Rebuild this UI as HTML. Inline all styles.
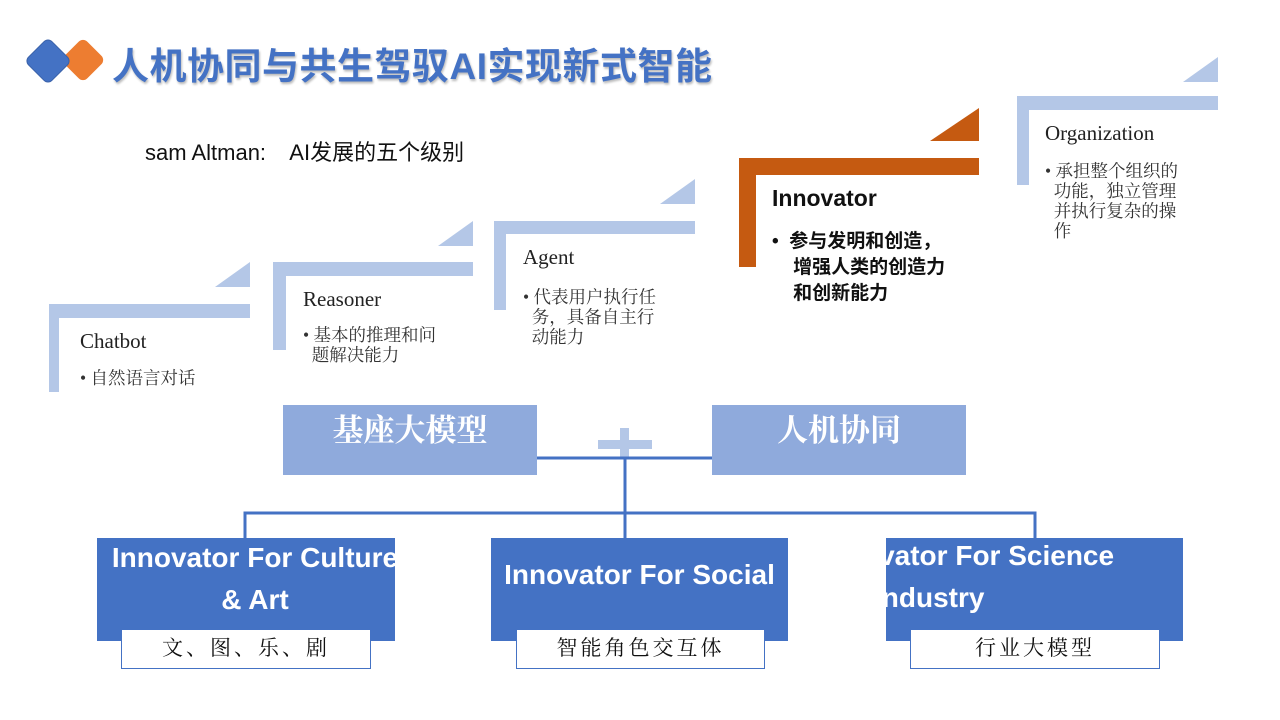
<!DOCTYPE html>
<html><head><meta charset="utf-8"><style>
body{margin:0;width:1280px;height:720px;background:#fff;position:relative;overflow:hidden;font-family:"Liberation Sans","Noto Sans CJK SC",sans-serif}
.a{position:absolute}
.lb{background:#B4C7E7}
.or{background:#C55A11}
.serif{font-family:"Liberation Serif","Noto Serif CJK SC",serif}
.h{font-size:21px;color:#222}
.t{font-size:17.5px;color:#333;line-height:20px;white-space:nowrap}
.box{background:#4472C4;color:#fff;font-weight:bold;font-size:28px;text-align:center;overflow:hidden;line-height:42px}
.wl{background:#fff;border:1.5px solid #4472C4;box-sizing:border-box;text-align:center;font-size:21px;color:#111;line-height:37px;font-family:"Liberation Serif","Noto Serif CJK SC",serif;letter-spacing:3px}
.tb{background:#8FAADC;color:#fff;font-size:31px;font-weight:bold;text-align:center;font-family:"Liberation Serif","Noto Serif CJK SC",serif}
</style></head><body>
<div class="a" style="left:67px;top:44px;width:32px;height:32px;background:#ED7D31;border-radius:6px;transform:rotate(45deg)"></div>
<div class="a" style="left:31px;top:44px;width:32px;height:32px;background:#4472C4;border-radius:6px;transform:rotate(45deg);border:1px solid #3a62aa"></div>
<div class="a" style="left:112px;top:36px;font-size:37px;font-weight:bold;color:#4472C4;text-shadow:1px 2px 2px #bbb;white-space:nowrap;letter-spacing:0.5px">人机协同与共生驾驭AI实现新式智能</div>
<div class="a" style="left:145px;top:135px;font-size:22px;color:#111;white-space:nowrap">sam Altman:&nbsp;&nbsp;&nbsp; AI发展的五个级别</div>

<div class="a lb" style="left:49px;top:304px;width:201px;height:14px"></div>
<div class="a lb" style="left:49px;top:304px;width:10px;height:88px"></div>
<svg class="a" style="left:0;top:0" width="1280" height="720">
<polygon points="215,287 250,262 250,287" fill="#B4C7E7"/>
<polygon points="438,246 473,221 473,246" fill="#B4C7E7"/>
<polygon points="660,204 695,179 695,204" fill="#B4C7E7"/>
<polygon points="930,141 979,108 979,141" fill="#C55A11"/>
<polygon points="1183,82 1218,57 1218,82" fill="#B4C7E7"/>
</svg>
<div class="a serif h" style="left:80px;top:329px">Chatbot</div>
<div class="a serif t" style="left:80px;top:368px">• 自然语言对话</div>
<div class="a lb" style="left:273px;top:262px;width:200px;height:14px"></div>
<div class="a lb" style="left:273px;top:262px;width:13px;height:88px"></div>
<div class="a serif h" style="left:303px;top:287px">Reasoner</div>
<div class="a serif t" style="left:303px;top:325px">• 基本的推理和问<br>&nbsp; 题解决能力</div>
<div class="a lb" style="left:494px;top:221px;width:201px;height:13px"></div>
<div class="a lb" style="left:494px;top:221px;width:12px;height:89px"></div>
<div class="a serif h" style="left:523px;top:245px">Agent</div>
<div class="a serif t" style="left:523px;top:287px">• 代表用户执行任<br>&nbsp; 务，具备自主行<br>&nbsp; 动能力</div>
<div class="a or" style="left:739px;top:158px;width:240px;height:17px"></div>
<div class="a or" style="left:739px;top:158px;width:17px;height:109px"></div>
<div class="a" style="left:772px;top:185px;font-size:23px;font-weight:bold;color:#111">Innovator</div>
<div class="a" style="left:772px;top:229px;font-size:19px;font-weight:bold;color:#111;line-height:26px;white-space:nowrap">•&nbsp; 参与发明和创造，<br>&nbsp;&nbsp;&nbsp; 增强人类的创造力<br>&nbsp;&nbsp;&nbsp; 和创新能力</div>
<div class="a lb" style="left:1017px;top:96px;width:201px;height:14px"></div>
<div class="a lb" style="left:1017px;top:96px;width:12px;height:89px"></div>
<div class="a serif h" style="left:1045px;top:121px">Organization</div>
<div class="a serif t" style="left:1045px;top:161px">• 承担整个组织的<br>&nbsp; 功能，独立管理<br>&nbsp; 并执行复杂的操<br>&nbsp; 作</div>

<div class="a tb" style="left:283px;top:405px;width:254px;height:70px;line-height:52px">基座大模型</div>
<div class="a tb" style="left:712px;top:405px;width:254px;height:70px;line-height:52px">人机协同</div>
<div class="a lb" style="left:598px;top:440px;width:54px;height:9px"></div>
<div class="a lb" style="left:620px;top:428px;width:9px;height:30px"></div>
<svg class="a" style="left:0;top:0" width="1280" height="720">
<g stroke="#4472C4" stroke-width="3" fill="none">
<line x1="537" y1="458" x2="712" y2="458"/>
<line x1="625" y1="458" x2="625" y2="538"/>
<polyline points="245,538 245,513 1035,513 1035,538"/>
</g></svg>
<div class="a box" style="left:97px;top:538px;width:298px;height:103px"><div style="margin-top:-1px;width:320px;margin-left:-2px;white-space:nowrap">Innovator For Culture<br>&amp; Art</div></div>
<div class="a box" style="left:491px;top:538px;width:297px;height:103px;line-height:74px;white-space:nowrap">Innovator For Social</div>
<div class="a box" style="left:886px;top:538px;width:297px;height:103px;text-align:left"><div style="position:absolute;left:-66px;top:-3px;white-space:nowrap">Innovator For Science</div><div style="position:absolute;left:-40px;top:39px;white-space:nowrap">&amp; Industry</div></div>
<div class="a wl" style="left:121px;top:629px;width:250px;height:40px">文、图、乐、剧</div>
<div class="a wl" style="left:516px;top:629px;width:249px;height:40px">智能角色交互体</div>
<div class="a wl" style="left:910px;top:629px;width:250px;height:40px">行业大模型</div>
</body></html>
